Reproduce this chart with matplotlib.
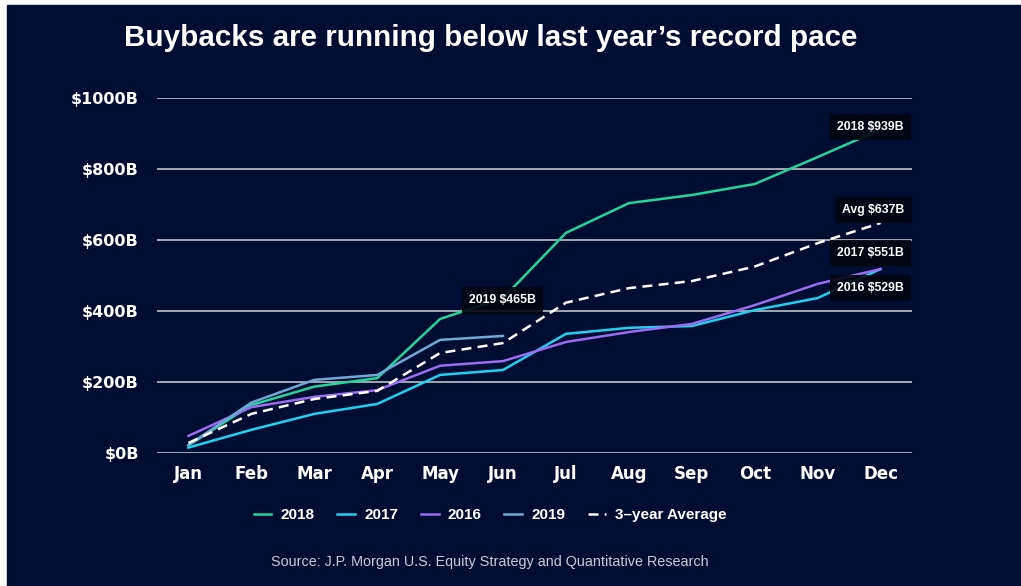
import numpy as np
import matplotlib
matplotlib.use("Agg")
import matplotlib.pyplot as plt
from matplotlib.patches import Rectangle

months = ["Jan", "Feb", "Mar", "Apr", "May", "Jun",
          "Jul", "Aug", "Sep", "Oct", "Nov", "Dec"]

y2018 = [20, 134, 186, 210, 377, 436, 620, 704, 727, 758, 834, 912]
y2017 = [14, 64, 109, 137, 219, 233, 335, 352, 357, 402, 436, 518]
y2016 = [47, 128, 157, 176, 245, 258, 312, 340, 363, 416, 476, 518]
y2019 = [21, 141, 205, 219, 318, 329]
avg3 = [27, 109, 151, 174, 281, 309, 423, 464, 484, 525, 591, 648]

yticks = [0, 200, 400, 600, 800, 1000]
ytick_labels = ["$0B", "$200B", "$400B", "$600B", "$800B", "$1000B"]

end_labels = ["2018 $939B", "Avg $637B", "2017 $551B", "2016 $529B", "2019 $465B"]
end_pos = [(10.84, 919), (10.89, 685), (10.84, 563), (10.84, 464), (4.99, 430)]

navy = "#000D33"
libsans = ["Liberation Sans", "DejaVu Sans"]

fig = plt.figure(figsize=(10.21, 5.86), dpi=100)
fig.patch.set_facecolor("white")
fig.patches.append(Rectangle((7 / 1021, 0), 1, (586 - 5) / 586,
                             transform=fig.transFigure, color=navy, zorder=-5))

ax = fig.add_axes([157 / 1021, (586 - 452.5) / 586, (912 - 157) / 1021, 354.2 / 586])
ax.patch.set_visible(False)

x = np.arange(12)
ax.plot(x, y2018, color="#25D49B", lw=1.8, label="2018", zorder=3)
ax.plot(x, y2017, color="#22D0EE", lw=1.8, label="2017", zorder=3)
ax.plot(x, y2016, color="#9B6CF0", lw=1.8, label="2016", zorder=3)
ax.plot(x[:len(y2019)], y2019, color="#6FA8D8", lw=1.8, label="2019", zorder=3)
ax.plot(x, avg3, color="white", lw=1.8, ls=(0, (4, 2.5)), label="3\u2013year Average", zorder=3)

for txt, (px, py) in zip(end_labels, end_pos):
    ax.text(px, py, txt, color="white", fontsize=8.8, fontweight="bold", family=libsans,
            ha="center", va="center", zorder=5,
            bbox=dict(boxstyle="square,pad=0.6", fc="#03060F", ec="none", alpha=0.9))

ax.set_xlim(-0.5, 11.5)
ax.set_ylim(0, 1000)
ax.set_yticks(yticks)
ax.set_yticklabels(ytick_labels)
ax.set_xticks(x)
ax.set_xticklabels(months)
ax.grid(axis="y", color="#A3A7B3", lw=1.4)
ax.set_axisbelow(True)
for s in ax.spines.values():
    s.set_visible(False)
ax.tick_params(axis="y", length=0, pad=13, labelsize=11.5, labelcolor="white")
ax.tick_params(axis="x", length=0, pad=9, labelsize=12, labelcolor="white")
for lbl in ax.get_xticklabels() + ax.get_yticklabels():
    lbl.set_fontweight("bold")

fig.text(0.481, 1 - 38 / 586, "Buybacks are running below last year\u2019s record pace",
         color="white", fontsize=21.3, fontweight="bold", family=libsans,
         ha="center", va="center")

leg = fig.legend(loc="center", bbox_to_anchor=(0.48, 1 - 515 / 586), ncol=5,
                 frameon=False, handlelength=1.15, handletextpad=0.6,
                 columnspacing=1.5, prop=dict(family=libsans, weight="bold", size=11))
for t in leg.get_texts():
    t.set_color("white")

fig.text(0.48, 1 - 562 / 586,
         "Source: J.P. Morgan U.S. Equity Strategy and Quantitative Research",
         color="#C8CCD8", fontsize=10.4, family=libsans, ha="center", va="center")

fig.savefig("out.png", dpi=100, facecolor=fig.get_facecolor())
